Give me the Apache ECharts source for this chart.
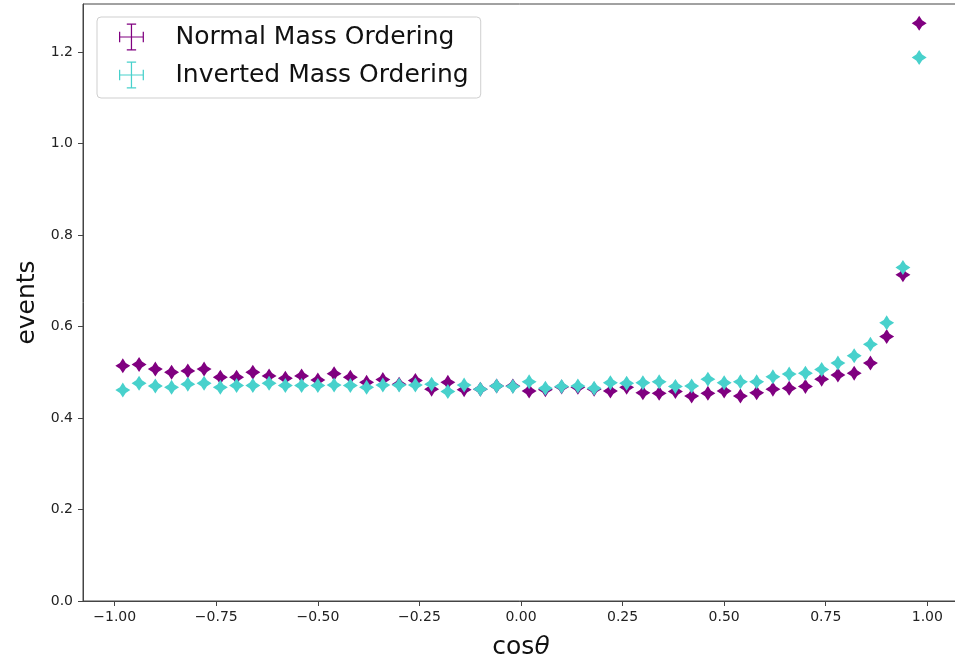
<!DOCTYPE html>
<html>
<head>
<meta charset="utf-8">
<script src="https://cdn.jsdelivr.net/npm/echarts@6/dist/echarts.min.js"></script>
<style>
  html, body { margin: 0; padding: 0; background: #fff; overflow: hidden; }
  #chart { width: 955px; height: 660px; }
</style>
</head>
<body>
<div id="chart"></div>
<script>
// Bin centres in cos(theta), bin width 0.04
const cosTheta = [
  -0.98, -0.94, -0.90, -0.86, -0.82, -0.78, -0.74, -0.70, -0.66, -0.62,
  -0.58, -0.54, -0.50, -0.46, -0.42, -0.38, -0.34, -0.30, -0.26, -0.22,
  -0.18, -0.14, -0.10, -0.06, -0.02, 0.02, 0.06, 0.10, 0.14, 0.18,
  0.22, 0.26, 0.30, 0.34, 0.38, 0.42, 0.46, 0.50, 0.54, 0.58,
  0.62, 0.66, 0.70, 0.74, 0.78, 0.82, 0.86, 0.90, 0.94, 0.98
];

// Normal mass ordering, events per bin
const normalEvents = [
  0.514, 0.517, 0.507, 0.500, 0.503, 0.507, 0.489, 0.489, 0.500, 0.492,
  0.487, 0.492, 0.483, 0.497, 0.489, 0.478, 0.484, 0.474, 0.482, 0.463,
  0.478, 0.462, 0.463, 0.470, 0.470, 0.459, 0.462, 0.468, 0.467, 0.463,
  0.459, 0.467, 0.455, 0.454, 0.458, 0.448, 0.454, 0.459, 0.448, 0.455,
  0.463, 0.465, 0.469, 0.485, 0.494, 0.498, 0.520, 0.578, 0.713, 1.263
];

// Inverted mass ordering, events per bin
const invertedEvents = [
  0.461, 0.476, 0.470, 0.467, 0.474, 0.476, 0.467, 0.471, 0.471, 0.476,
  0.471, 0.471, 0.471, 0.472, 0.471, 0.467, 0.472, 0.472, 0.472, 0.474,
  0.458, 0.472, 0.463, 0.470, 0.469, 0.479, 0.465, 0.469, 0.470, 0.465,
  0.477, 0.476, 0.477, 0.479, 0.469, 0.470, 0.485, 0.477, 0.479, 0.479,
  0.490, 0.496, 0.498, 0.506, 0.520, 0.536, 0.561, 0.608, 0.729, 1.188
];

const xTicks = [-1.0, -0.75, -0.5, -0.25, 0.0, 0.25, 0.5, 0.75, 1.0];
const yTicks = [0.0, 0.2, 0.4, 0.6, 0.8, 1.0, 1.2];

const seriesNames = ['Normal Mass Ordering', 'Inverted Mass Ordering'];
const seriesColors = ['#800080', '#48d1cc'];

const FONT = 'DejaVu Sans';

// Diamond marker with slightly pinched sides (marker plus short error arms)
const markerPath = 'path://M0,-10L3.9,-3.9L10,0L3.9,3.9L0,10L-3.9,3.9L-10,0L-3.9,-3.9Z';
// Error-bar glyph for the legend: crossed bars with end caps
const errorbarIcon = 'path://M0,12.4h24v1.2h-24z M11.4,0h1.2v26h-1.2z M0,8h1.2v10h-1.2z M22.8,8h1.2v10h-1.2z M7.5,0h9v1.2h-9z M7.5,24.8h9v1.2h-9z';

function pairs(xs, ys) {
  return xs.map((x, i) => [x, ys[i]]);
}

function xLabel(v) {
  const s = Math.abs(v).toFixed(2);
  return v < 0 ? '\u2212' + s : s;
}

const chart = echarts.init(document.getElementById('chart'), null, { renderer: 'canvas' });

chart.setOption({
  animation: false,
  backgroundColor: '#ffffff',
  textStyle: { fontFamily: FONT },
  grid: {
    left: 83, top: 4, width: 876, height: 597,
    outerBoundsMode: 'none',
    containLabel: false,
    show: true, borderColor: '#444', borderWidth: 1, backgroundColor: 'transparent'
  },
  legend: {
    orient: 'vertical',
    left: 97, top: 17,
    padding: [5, 12, 8, 22],
    itemWidth: 26, itemHeight: 27, itemGap: 8,
    borderColor: '#cfcfcf', borderWidth: 1, borderRadius: 4,
    backgroundColor: '#ffffff',
    data: seriesNames.map((n) => ({ name: n, icon: errorbarIcon })),
    textStyle: {
      fontFamily: FONT, fontSize: 25, color: '#111',
      lineHeight: 30, padding: [0, 0, 0, 26]
    }
  },
  xAxis: {
    type: 'value',
    min: -1.078, max: 1.078,
    name: '{n|cos}{t|θ}',
    nameLocation: 'middle',
    nameGap: 34,
    nameTextStyle: {
      rich: {
        n: { fontFamily: FONT, fontSize: 25, color: '#111' },
        t: { fontFamily: FONT, fontSize: 25, fontStyle: 'italic', color: '#111' }
      }
    },
    axisLine: { show: true, onZero: false, lineStyle: { color: '#444', width: 1 } },
    axisTick: { show: true, length: 5, customValues: xTicks, lineStyle: { color: '#444' } },
    axisLabel: {
      customValues: xTicks, margin: 9,
      fontFamily: FONT, fontSize: 14, color: '#222',
      formatter: xLabel
    },
    splitLine: { show: false }
  },
  yAxis: {
    type: 'value',
    min: 0, max: 1.305,
    name: 'events',
    nameLocation: 'middle',
    nameGap: 37,
    nameTextStyle: { fontFamily: FONT, fontSize: 25, color: '#111' },
    axisLine: { show: true, onZero: false, lineStyle: { color: '#444', width: 1 } },
    axisTick: { show: true, length: 5, customValues: yTicks, lineStyle: { color: '#444' } },
    axisLabel: {
      customValues: yTicks, margin: 10,
      fontFamily: FONT, fontSize: 14, color: '#222',
      formatter: (v) => v.toFixed(1)
    },
    splitLine: { show: false }
  },
  series: [
    {
      name: seriesNames[0],
      type: 'scatter',
      symbol: markerPath,
      symbolSize: 15,
      itemStyle: { color: seriesColors[0], opacity: 1 },
      data: pairs(cosTheta, normalEvents),
      z: 2
    },
    {
      name: seriesNames[1],
      type: 'scatter',
      symbol: markerPath,
      symbolSize: 15,
      itemStyle: { color: seriesColors[1], opacity: 1 },
      data: pairs(cosTheta, invertedEvents),
      z: 3
    }
  ]
});
</script>
</body>
</html>
